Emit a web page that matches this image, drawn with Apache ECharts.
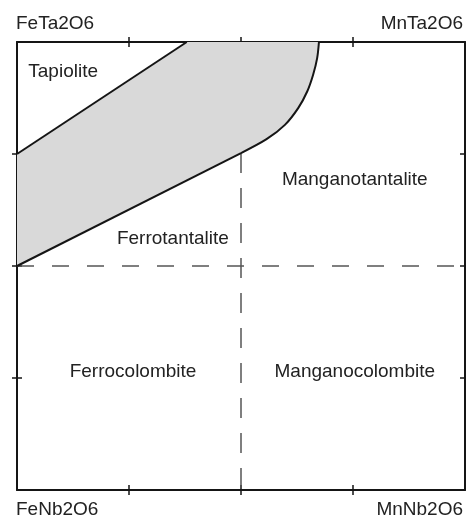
<!DOCTYPE html>
<html>
<head>
<meta charset="utf-8">
<script src="https://cdn.jsdelivr.net/npm/echarts@6/dist/echarts.min.js"></script>
<style>
  html, body { margin: 0; padding: 0; background: #fff; }
  #chart { width: 466px; height: 518px; }
</style>
</head>
<body>
<div id="chart"></div>
<script>
// x: Mn/(Mn+Fe), y: Ta/(Ta+Nb)
const tickValues = [0.25, 0.5, 0.75]
const lowerLine = [[0, 0.5], [0.5, 0.752]]
const lowerCurve = [[0.5, 0.752], [0.557, 0.783], [0.598, 0.815], [0.628, 0.853], [0.648, 0.89], [0.661, 0.927], [0.67, 0.964], [0.674, 1]]
const upperBoundary = [[0, 0.75], [0.379, 1]]
const dividerH = [[0, 0.5], [1, 0.5]]
const dividerV = [[0.5, 0.752], [0.5, 0]]
const fieldNames = ['Tapiolite', 'Manganotantalite', 'Ferrotantalite', 'Ferrocolombite', 'Manganocolombite']
const fieldPos = [[0.103, 0.933], [0.754, 0.692], [0.348, 0.56], [0.259, 0.263], [0.754, 0.263]]
const endMembers = ['FeTa2O6', 'MnTa2O6', 'FeNb2O6', 'MnNb2O6']
const endMemberPos = [[0, 1], [1, 1], [0, 0], [1, 0]]

const ink = '#151515'
const font = '19px "Liberation Sans", Arial, sans-serif'

function sideAxis(position, inside) {
  return {
    type: 'value',
    min: 0,
    max: 1,
    position: position,
    axisLine: { show: !inside, onZero: false, lineStyle: { color: ink, width: 2 } },
    axisTick: { show: true, inside: inside, length: 5, customValues: tickValues, lineStyle: { color: ink, width: 1.5 } },
    axisLabel: { show: false },
    splitLine: { show: false }
  }
}

const chart = echarts.init(document.getElementById('chart'))

// grey two-phase field between the boundaries
const fieldPolygon = lowerLine.concat(lowerCurve.slice(1), upperBoundary.slice().reverse())

const option = {
  animation: false,
  grid: { left: 17, top: 42, width: 448, height: 448 },
  xAxis: [
    sideAxis('bottom', false), sideAxis('bottom', true),
    sideAxis('top', false), sideAxis('top', true)
  ],
  yAxis: [
    sideAxis('left', false), sideAxis('left', true),
    sideAxis('right', false), sideAxis('right', true)
  ],
  series: [
    {
      type: 'custom',
      silent: true,
      data: [0],
      renderItem(params, api) {
        return {
          type: 'polygon',
          shape: { points: fieldPolygon.map(p => api.coord(p)) },
          style: { fill: '#d9d9d9' }
        }
      }
    },
    {
      type: 'line',
      data: dividerH,
      symbol: 'none',
      lineStyle: { color: '#555', width: 1.5, type: [17, 18] }
    },
    {
      type: 'line',
      data: dividerV,
      symbol: 'none',
      lineStyle: { color: '#555', width: 1.5, type: [20, 15] }
    },
    {
      type: 'line',
      data: lowerLine,
      symbol: 'none',
      lineStyle: { color: ink, width: 2 }
    },
    {
      type: 'line',
      data: lowerCurve,
      symbol: 'none',
      smooth: 0.3,
      lineStyle: { color: ink, width: 2 }
    },
    {
      type: 'line',
      data: upperBoundary,
      symbol: 'none',
      lineStyle: { color: ink, width: 2 }
    },
    {
      type: 'custom',
      silent: true,
      data: fieldPos,
      renderItem(params, api) {
        const pt = api.coord([api.value(0), api.value(1)])
        return {
          type: 'text',
          x: pt[0],
          y: pt[1],
          style: { text: fieldNames[params.dataIndex], fill: '#222', font: font, align: 'center', verticalAlign: 'middle' }
        }
      }
    },
    {
      // end-member labels at the corners, outside the box
      type: 'custom',
      silent: true,
      clip: false,
      data: endMemberPos,
      renderItem(params, api) {
        const x = api.value(0)
        const y = api.value(1)
        const pt = api.coord([x, y])
        return {
          type: 'text',
          x: pt[0] + (x === 0 ? -1 : -2),
          y: pt[1] + (y === 1 ? -18 : 20),
          style: { text: endMembers[params.dataIndex], fill: '#222', font: font, align: x === 0 ? 'left' : 'right', verticalAlign: 'middle' }
        }
      }
    }
  ]
}

chart.setOption(option)
</script>
</body>
</html>
